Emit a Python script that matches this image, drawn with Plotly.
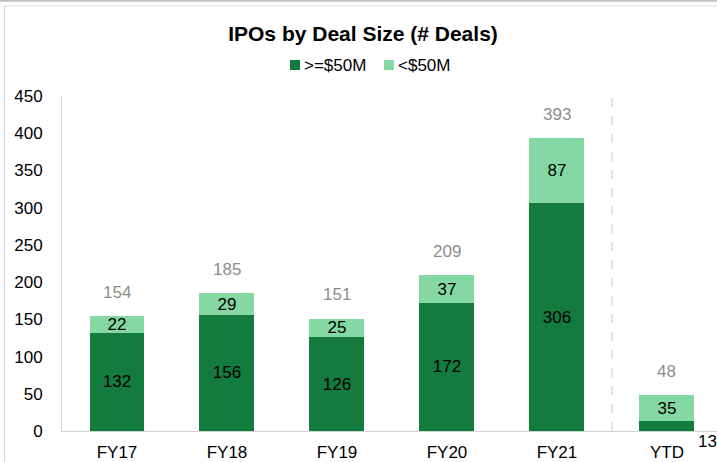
import plotly.graph_objects as go

categories = ["FY17", "FY18", "FY19", "FY20", "FY21", "YTD"]
large_deals = [132, 156, 126, 172, 306, 13]   # >=$50M
small_deals = [22, 29, 25, 37, 87, 35]        # <$50M
y_ticks = [0, 50, 100, 150, 200, 250, 300, 350, 400, 450]
series_names = [">=$50M", "<$50M"]

DARK = "#137B3E"
LIGHT = "#85D8A3"
FONT = "Liberation Sans, Arial, sans-serif"
FS = 17

totals = [a + b for a, b in zip(large_deals, small_deals)]

# inside labels: the tiny YTD dark segment gets an outside label instead
large_text = [str(v) for v in large_deals[:-1]] + [""]

fig = go.Figure()
fig.add_trace(go.Bar(
    x=categories, y=large_deals, name=series_names[0],
    marker=dict(color=DARK, line=dict(width=0)),
    text=large_text, textposition="inside", insidetextanchor="middle",
    textangle=0, textfont=dict(color="black", size=FS, family=FONT),
    width=0.5, showlegend=False,
))
fig.add_trace(go.Bar(
    x=categories, y=small_deals, name=series_names[1],
    marker=dict(color=LIGHT, line=dict(width=0)),
    text=[str(v) for v in small_deals], textposition="inside", insidetextanchor="middle",
    textangle=0, textfont=dict(color="black", size=FS, family=FONT),
    width=0.5, showlegend=False,
))

# plot area in page pixels: x 62..717, y 96..431
def px(x):
    return (x - 62) / 655.0

def py(y):
    return (431 - y) / 335.0

annotations = []
for c, t in zip(categories, totals):
    annotations.append(dict(
        x=c, y=t, xref="x", yref="y", text=str(t), showarrow=False,
        yshift=24, font=dict(size=FS, color="#8C8C8C", family=FONT),
    ))
annotations.append(dict(
    x=categories[-1], y=0, xref="x", yref="y", text=str(large_deals[-1]),
    showarrow=False, xshift=41, yshift=-10,
    font=dict(size=FS, color="black", family=FONT),
))

# legend (drawn as swatches + text)
legend_items = [(series_names[0], DARK, 290, 303), (series_names[1], LIGHT, 384, 397)]
shapes = []
for name, col, sx, tx in legend_items:
    shapes.append(dict(type="rect", xref="paper", yref="paper",
                       x0=px(sx), x1=px(sx + 10), y0=py(70), y1=py(60),
                       fillcolor=col, line=dict(width=0)))
    annotations.append(dict(x=px(tx), y=py(65), xref="paper", yref="paper",
                            xanchor="left", yanchor="middle", text=name, showarrow=False,
                            borderpad=0, font=dict(size=FS, color="black", family=FONT)))

shapes += [
    dict(type="line", xref="x", yref="paper", x0=4.5, x1=4.5, y0=0, y1=py(93),
         line=dict(color="#C8C8C8", width=1, dash="dash")),
    dict(type="line", xref="paper", yref="paper", x0=px(0), x1=1.0, y0=py(0.8), y1=py(0.8),
         line=dict(color="#BFBFBF", width=2)),
    dict(type="line", xref="paper", yref="paper", x0=px(4.5), x1=1.0, y0=py(6), y1=py(6),
         line=dict(color="#DCDCDC", width=1.2)),
    dict(type="line", xref="paper", yref="paper", x0=px(4.5), x1=px(4.5), y0=py(6), y1=py(462),
         line=dict(color="#DCDCDC", width=1.2)),
]

fig.update_layout(
    barmode="stack",
    width=717, height=462,
    margin=dict(l=62, r=0, t=96, b=31),
    paper_bgcolor="white", plot_bgcolor="white",
    font=dict(family=FONT, size=FS, color="black"),
    title=dict(text="<b>IPOs by Deal Size (# Deals)</b>", x=363 / 717, xref="container",
               xanchor="center", y=1 - 34 / 462, yref="container", yanchor="middle",
               font=dict(size=21, color="black", family=FONT)),
    showlegend=False,
    uniformtext=dict(minsize=FS, mode="show"),
    xaxis=dict(range=[-0.5, 5.455], showgrid=False, showline=True, linecolor="#D0D0D0",
               linewidth=1, ticks="", tickfont=dict(size=FS, color="black", family=FONT),
               ticklabelstandoff=6, fixedrange=True),
    yaxis=dict(range=[0, 450], tickvals=y_ticks, showgrid=False, showline=True,
               linecolor="#D9D9D9", linewidth=1, ticks="", zeroline=False,
               tickfont=dict(size=FS, color="black", family=FONT),
               ticklabelstandoff=15, fixedrange=True),
    annotations=annotations,
    shapes=shapes,
)

fig.write_html(
    "out.html",
    config={"displayModeBar": False},
    post_script="document.body.style.margin='0';document.body.style.overflow='hidden';",
)
